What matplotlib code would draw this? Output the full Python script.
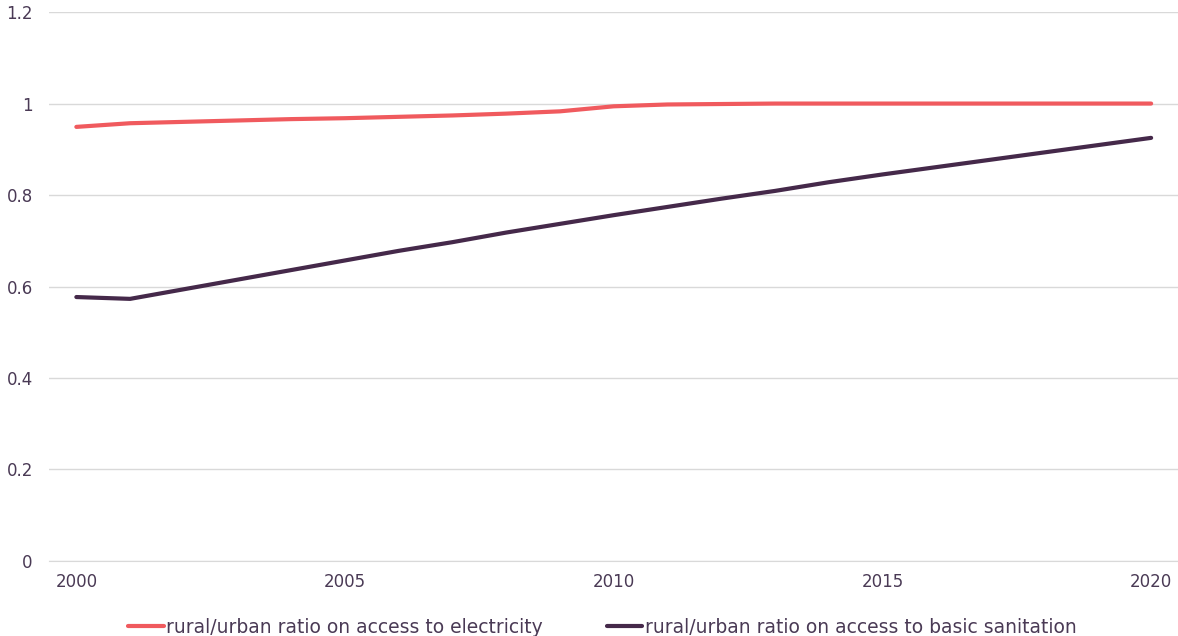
import matplotlib.pyplot as plt

years = list(range(2000, 2021))
electricity = [0.949, 0.957, 0.960, 0.963, 0.966, 0.968, 0.971, 0.974, 0.978, 0.983,
               0.994, 0.998, 0.999, 1.0, 1.0, 1.0, 1.0, 1.0, 1.0, 1.0, 1.0]
sanitation = [0.577, 0.573, 0.594, 0.615, 0.636, 0.657, 0.678, 0.697, 0.718, 0.737,
              0.756, 0.774, 0.792, 0.809, 0.828, 0.845, 0.861, 0.877, 0.893, 0.909, 0.925]
yticks = [0, 0.2, 0.4, 0.6, 0.8, 1, 1.2]
ytick_labels = ['0', '0.2', '0.4', '0.6', '0.8', '1', '1.2']
xticks = [2000, 2005, 2010, 2015, 2020]

text_color = '#4a3a55'
plt.rcParams['font.family'] = ['DejaVu Sans']

fig = plt.figure(figsize=(11.78, 6.36), dpi=100)
ax = fig.add_axes([0.042, 0.118, 0.958, 0.863])

ax.plot(years, electricity, color='#f05a5e', linewidth=3, solid_capstyle='round',
        label='rural/urban ratio on access to electricity')
ax.plot(years, sanitation, color='#45294a', linewidth=3, solid_capstyle='round',
        label='rural/urban ratio on access to basic sanitation')

ax.set_xlim(1999.5, 2020.5)
ax.set_ylim(0, 1.2)
ax.set_yticks(yticks)
ax.set_yticklabels(ytick_labels)
ax.set_xticks(xticks)
ax.grid(axis='y', color='#d9d9d9', linewidth=1)
ax.set_axisbelow(True)
for s in ['top', 'right', 'left']:
    ax.spines[s].set_visible(False)
ax.spines['bottom'].set_color('#d9d9d9')
ax.tick_params(axis='both', length=0, labelsize=12, colors=text_color)
ax.tick_params(axis='y', pad=12)
ax.tick_params(axis='x', pad=9)

leg = ax.legend(loc='upper center', bbox_to_anchor=(0.49, -0.073), ncol=2, frameon=False,
                fontsize=13.5, handlelength=1.9, handletextpad=0.15, columnspacing=3.4)
for t in leg.get_texts():
    t.set_color(text_color)

fig.savefig('out.png', dpi=100)
